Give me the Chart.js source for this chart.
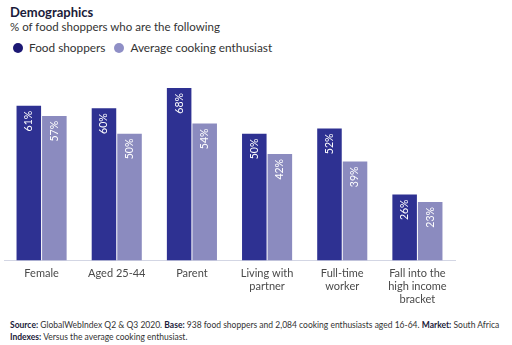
<!DOCTYPE html>
<html>
<head>
<meta charset="utf-8">
<script src="https://cdn.jsdelivr.net/npm/chart.js@4"></script>
<style>
  body { margin: 0; width: 512px; height: 345px; background: #fff; font-family: Lato, "Open Sans", sans-serif; position: relative; overflow: hidden; }
  #title { position: absolute; left: 10px; top: 4px; font-size: 13px; font-weight: bold; color: #1b1b3a; }
  #sub { position: absolute; left: 10px; top: 20px; font-size: 11.5px; color: #333; }
  #legend { position: absolute; left: 13px; top: 40px; font-size: 11.8px; color: #333; display: flex; align-items: center; }
  #legend span.dot { display: inline-block; width: 10px; height: 10px; border-radius: 50%; margin-right: 6px; }
  #legend span.item { display: flex; align-items: center; margin-right: 9px; }
  #wrap { position: absolute; left: 0; top: 70px; width: 512px; height: 234px; }
  #foot { position: absolute; left: 10px; top: 319px; font-size: 8.5px; color: #333; line-height: 12px; white-space: nowrap; }
  #foot b { color: #1b1b3a; }
</style>
</head>
<body>
<div id="title">Demographics</div>
<div id="sub">% of food shoppers who are the following</div>
<div id="legend">
  <span class="item"><span class="dot" style="background:#1c1874"></span>Food shoppers</span>
  <span class="item"><span class="dot" style="background:#8f8fc6"></span>Average cooking enthusiast</span>
</div>
<div id="wrap"><canvas id="myChart"></canvas></div>
<div id="foot">
  <b>Source:</b> GlobalWebIndex Q2 &amp; Q3 2020. <b>Base:</b> 938 food shoppers and 2,084 cooking enthusiasts aged 16-64. <b>Market:</b> South Africa<br>
  <b>Indexes:</b> Versus the average cooking enthusiast.
</div>
<script>
var categories = [
  "Female",
  "Aged 25-44",
  "Parent",
  ["Living with", "partner"],
  ["Full-time", "worker"],
  ["Fall into the", "high income", "bracket"]
];
var foodShoppers = [61, 60, 68, 50, 52, 26];
var cookingEnthusiast = [57, 50, 54, 42, 39, 23];

// white percentage labels, rotated to read upwards, just under the bar top
var barLabels = {
  id: "barLabels",
  afterDatasetsDraw: function (chart) {
    var ctx = chart.ctx;
    ctx.save();
    ctx.fillStyle = "#ffffff";
    ctx.font = "10.5px Lato, 'Open Sans', sans-serif";
    ctx.textBaseline = "middle";
    chart.data.datasets.forEach(function (ds, i) {
      chart.getDatasetMeta(i).data.forEach(function (bar, j) {
        ctx.save();
        ctx.translate(bar.x, bar.y + 5);
        ctx.rotate(-Math.PI / 2);
        ctx.textAlign = "right";
        ctx.fillText(ds.data[j] + "%", 0, 0);
        ctx.restore();
      });
    });
    ctx.restore();
  }
};

var ctx = document.getElementById("myChart").getContext("2d");
new Chart(ctx, {
  type: "bar",
  data: {
    labels: categories,
    datasets: [
      {
        label: "Food shoppers",
        data: foodShoppers,
        backgroundColor: "#2e3192",
        categoryPercentage: 0.68,
        barPercentage: 0.96
      },
      {
        label: "Average cooking enthusiast",
        data: cookingEnthusiast,
        backgroundColor: "#8b8bbf",
        categoryPercentage: 0.68,
        barPercentage: 0.96
      }
    ]
  },
  options: {
    responsive: true,
    maintainAspectRatio: false,
    animation: false,
    layout: { padding: { left: 4, right: 57, top: 13, bottom: 0 } },
    plugins: {
      legend: { display: false },
      tooltip: { enabled: false }
    },
    scales: {
      x: {
        grid: { display: false },
        border: { color: "#d3d6e4", width: 1 },
        ticks: {
          color: "#4a4a4a",
          font: { family: "Lato, 'Open Sans', sans-serif", size: 11 },
          padding: -2,
          maxRotation: 0
        }
      },
      y: {
        display: false,
        min: 0,
        max: 70
      }
    }
  },
  plugins: [barLabels]
});
</script>
</body>
</html>
